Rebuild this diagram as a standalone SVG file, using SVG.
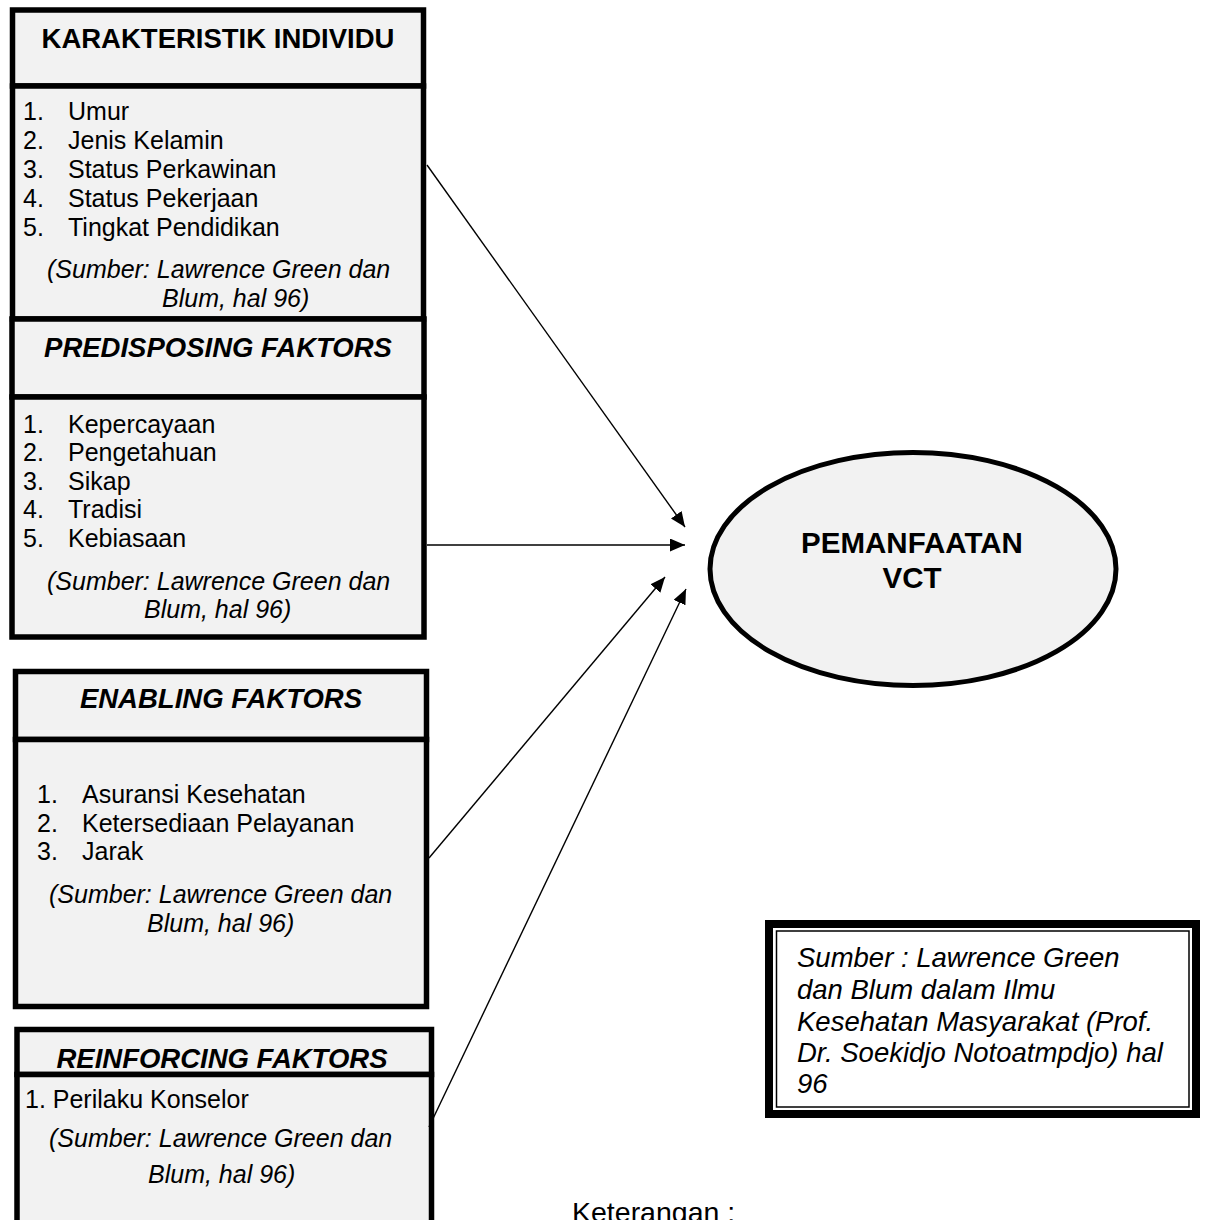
<svg xmlns="http://www.w3.org/2000/svg" width="1205" height="1220" viewBox="0 0 1205 1220">
<style>
  text { font-family: "Liberation Sans", Arial, sans-serif; fill: #000; }
  .box { fill: #f2f2f2; stroke: #000; stroke-width: 5.5; }
  .title { font-size: 27.5px; font-weight: bold; text-anchor: middle; }
  .ti { font-style: italic; }
  .item { font-size: 25px; }
  .src { font-size: 25px; font-style: italic; }
  .conn { stroke: #000; stroke-width: 1.4; fill: none; marker-end: url(#arrow); }
</style>
<defs>
  <marker id="arrow" markerUnits="userSpaceOnUse" markerWidth="16" markerHeight="14" refX="15" refY="6.5" orient="auto">
    <path d="M0,0 L15,6.5 L0,13 z" fill="#000"/>
  </marker>
</defs>
<rect width="1205" height="1220" fill="#fff"/>

<g id="karakteristik">
  <rect class="box" x="12.5" y="10" width="411" height="76"/>
  <rect class="box" x="12.5" y="86" width="411" height="233"/>
  <text class="title" x="218" y="48">KARAKTERISTIK INDIVIDU</text>
  <g class="item">
    <text x="23" y="120">1.</text><text x="68" y="120">Umur</text>
    <text x="23" y="149">2.</text><text x="68" y="149">Jenis Kelamin</text>
    <text x="23" y="178">3.</text><text x="68" y="178">Status Perkawinan</text>
    <text x="23" y="207">4.</text><text x="68" y="207">Status Pekerjaan</text>
    <text x="23" y="236">5.</text><text x="68" y="236">Tingkat Pendidikan</text>
  </g>
  <text class="src" x="47" y="278">(Sumber: Lawrence Green dan</text>
  <text class="src" x="162" y="307">Blum, hal 96)</text>
</g>

<g id="predisposing">
  <rect class="box" x="12" y="319" width="412" height="78"/>
  <rect class="box" x="12" y="397" width="412" height="240"/>
  <text class="title ti" x="218" y="357">PREDISPOSING FAKTORS</text>
  <g class="item">
    <text x="23" y="433">1.</text><text x="68" y="433">Kepercayaan</text>
    <text x="23" y="461">2.</text><text x="68" y="461">Pengetahuan</text>
    <text x="23" y="490">3.</text><text x="68" y="490">Sikap</text>
    <text x="23" y="518">4.</text><text x="68" y="518">Tradisi</text>
    <text x="23" y="547">5.</text><text x="68" y="547">Kebiasaan</text>
  </g>
  <text class="src" x="47" y="590">(Sumber: Lawrence Green dan</text>
  <text class="src" x="144" y="618">Blum, hal 96)</text>
</g>

<g id="enabling">
  <rect class="box" x="15.5" y="671.5" width="411" height="68"/>
  <rect class="box" x="15.5" y="739.5" width="411" height="267"/>
  <text class="title ti" x="221" y="708">ENABLING FAKTORS</text>
  <g class="item">
    <text x="37" y="803">1.</text><text x="82" y="803">Asuransi Kesehatan</text>
    <text x="37" y="832">2.</text><text x="82" y="832">Ketersediaan Pelayanan</text>
    <text x="37" y="860">3.</text><text x="82" y="860">Jarak</text>
  </g>
  <text class="src" x="49" y="903">(Sumber: Lawrence Green dan</text>
  <text class="src" x="147" y="932">Blum, hal 96)</text>
</g>

<g id="reinforcing">
  <rect class="box" x="17" y="1029.5" width="414.5" height="45"/>
  <rect class="box" x="17" y="1074.5" width="414.5" height="160"/>
  <text class="title ti" x="222" y="1068">REINFORCING FAKTORS</text>
  <text class="item" x="25" y="1108">1.  Perilaku Konselor</text>
  <text class="src" x="49" y="1147">(Sumber: Lawrence Green dan</text>
  <text class="src" x="148" y="1183">Blum, hal 96)</text>
</g>

<g id="pemanfaatan">
  <ellipse cx="913" cy="569" rx="203" ry="116.5" fill="#f2f2f2" stroke="#000" stroke-width="5"/>
  <text x="912" y="553" font-size="29.5" font-weight="bold" text-anchor="middle">PEMANFAATAN</text>
  <text x="912" y="588" font-size="29.5" font-weight="bold" text-anchor="middle">VCT</text>
</g>

<g id="sumber">
  <rect x="769" y="924" width="427" height="190" fill="#fff" stroke="#000" stroke-width="8"/>
  <rect x="776.5" y="931" width="412.5" height="176" fill="none" stroke="#000" stroke-width="1.5"/>
  <g font-size="27.5" font-style="italic">
    <text x="797" y="967">Sumber : Lawrence Green</text>
    <text x="797" y="999">dan Blum dalam Ilmu</text>
    <text x="797" y="1031">Kesehatan Masyarakat (Prof.</text>
    <text x="797" y="1062">Dr. Soekidjo Notoatmpdjo) hal</text>
    <text x="797" y="1093">96</text>
  </g>
</g>

<g id="keterangan">
  <text x="572" y="1222" font-size="28.5">Keterangan :</text>
</g>

<g id="connectors">
  <line class="conn" x1="427" y1="165" x2="685" y2="527"/>
  <line class="conn" x1="427" y1="545" x2="685" y2="545"/>
  <line class="conn" x1="429" y1="858" x2="665" y2="577"/>
  <line class="conn" x1="429" y1="1127" x2="686" y2="589"/>
</g>
</svg>
